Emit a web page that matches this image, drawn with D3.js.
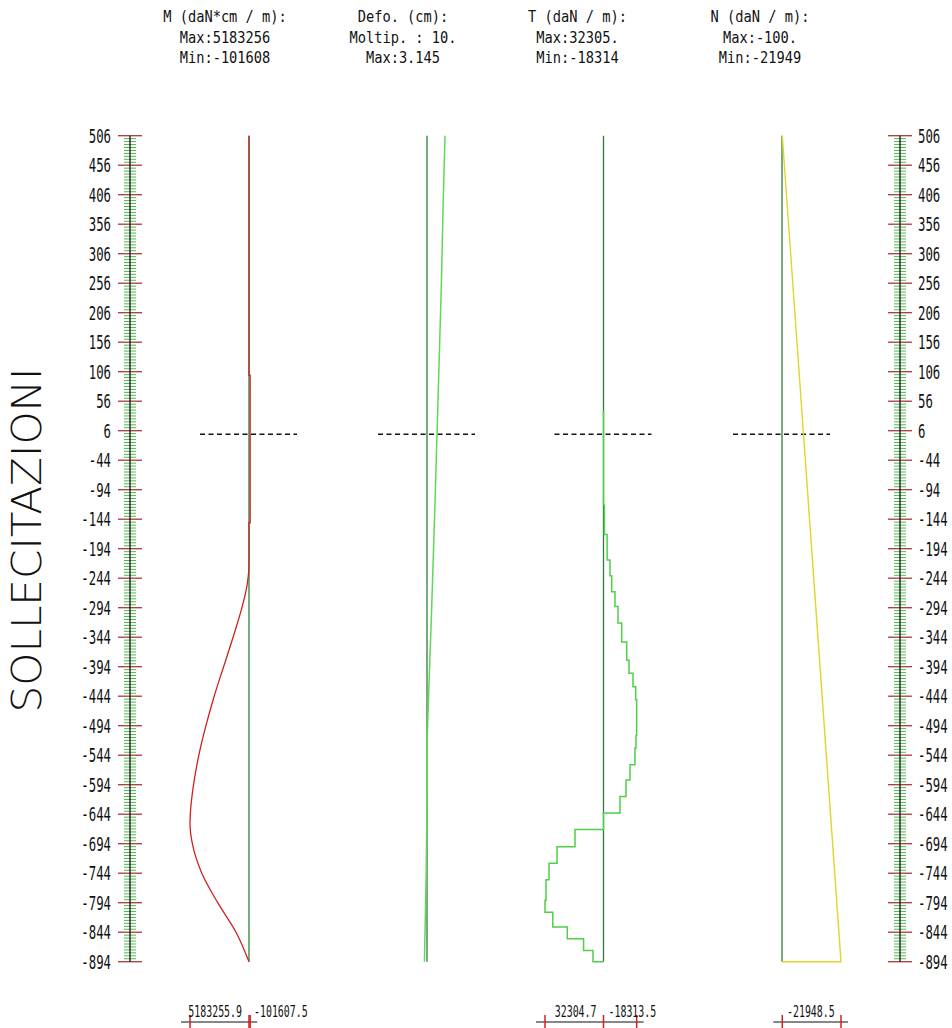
<!DOCTYPE html>
<html lang="it">
<head>
<meta charset="UTF-8" />
<title>Sollecitazioni</title>
<script src="https://cdnjs.cloudflare.com/ajax/libs/d3/7.9.0/d3.min.js"></script>
<style>
  html, body { margin: 0; padding: 0; background: #fff; }
  svg { display: block; }
  text { font-family: "DejaVu Sans Mono", monospace; fill: #111; }
</style>
</head>
<body>
<svg id="chart" width="952" height="1028"></svg>
<script>
/* ---------- data ---------- */
const depthTicks = [506, 456, 406, 356, 306, 256, 206, 156, 106, 56, 6, -44, -94, -144, -194,
  -244, -294, -344, -394, -444, -494, -544, -594, -644, -694, -744, -794, -844, -894];

const headerM = ["M (daN*cm / m):", "Max:5183256", "Min:-101608"];
const headerD = ["Defo. (cm):", "Moltip. : 10.", "Max:3.145"];
const headerT = ["T (daN / m):", "Max:32305.", "Min:-18314"];
const headerN = ["N (daN / m):", "Max:-100.", "Min:-21949"];

const scaleM = { max: 5183255.9, min: -101607.5 };
const scaleT = { max: 32304.7, min: -18313.5 };
const scaleN = { max: -100, min: -21948.5 };
const defoMax = 3.145;

// bending moment
const mDepth = [506, 100, 100, -150, -150, -220, -260, -294, -344, -394, -444, -494, -544,
  -594, -644, -660, -694, -744, -794, -844, -894];
const mVal = [0, 0, -101608, -101608, 0, 0, 207000, 622000, 1399000, 2229000, 3058000,
  3784000, 4406000, 4872000, 5157000, 5183256, 4976000, 4147000, 2747000, 1140000, 0];

// deformation (cm)
const dDepth = [506, 400, 250, 100, -100, -300, -450, -520, -620, -750, -894];
const dVal = [3.145, 2.85, 2.5, 2.05, 1.45, 0.8, 0.25, 0.03, 0.0, -0.15, -0.45];

// shear, step values starting at each depth
const tDepth = [40, -120, -170, -213, -240, -267, -292, -320, -352, -383, -405, -428, -450,
  -510, -532, -560, -586, -614, -642, -670, -699, -727, -755, -790, -810, -835, -855, -875, -894];
const tVal = [0, -500, -2000, -3590, -4530, -6350, -8010, -10050, -12810, -14080, -16290,
  -17780, -18314, -17950, -17400, -14630, -12420, -9110, 0, 15740, 25680, 30100, 31750,
  32305, 28000, 20000, 11000, 5800, 0];

// axial force
const nDepth = [506, -894, -894];
const nVal = [-100, -21949, 0];

/* ---------- layout ---------- */
const svg = d3.select("#chart");
const y = d3.scaleLinear().domain([506, -894]).range([135.7, 961.7]);

const zero = { M: 249, D: 427, T: 603.5, N: 782 };
const xM = d3.scaleLinear().domain([0, scaleM.max]).range([zero.M, 190]);
const xT = d3.scaleLinear().domain([0, scaleT.max]).range([zero.T, 545]);
const xN = d3.scaleLinear().domain([0, scaleN.min]).range([zero.N, 841]);
const xD = d3.scaleLinear().domain([0, defoMax]).range([zero.D, 445]);

// narrow plotter-style text: monospace squeezed horizontally
function label(g, str, x, yy, size, sx, anchor) {
  return g.append("text")
    .attr("transform", `translate(${x},${yy}) scale(${sx},1)`)
    .attr("font-size", size)
    .attr("text-anchor", anchor || "start")
    .text(str);
}

/* ---------- title ---------- */
svg.append("text")
  .attr("transform", "translate(41,540) rotate(-90)")
  .attr("text-anchor", "middle")
  .attr("font-weight", 200)
  .attr("font-size", 40)
  .attr("textLength", 345)
  .attr("lengthAdjust", "spacingAndGlyphs")
  .style("font-family", "DejaVu Sans")
  .text("SOLLECITAZIONI");

/* ---------- headers ---------- */
const headers = [[headerM, zero.M - 24], [headerD, zero.D - 24], [headerT, zero.T - 26], [headerN, zero.N - 22]];
const hg = svg.append("g");
headers.forEach(([lines, cx]) => {
  lines.forEach((s, i) => label(hg, s, cx, 22 + i * 20.5, 16.5, 0.83, "middle"));
});

/* ---------- depth axes ---------- */
function depthAxis(ax, side) {
  const g = svg.append("g");
  const minor = d3.range(506, -895, -5).filter(v => !depthTicks.includes(v));
  g.selectAll("line.minor").data(minor).join("line")
    .attr("x1", ax - 6).attr("x2", ax + 6)
    .attr("y1", d => y(d)).attr("y2", d => y(d))
    .attr("stroke", "#4cb84c").attr("stroke-width", 1);
  g.selectAll("line.major").data(depthTicks).join("line")
    .attr("x1", ax - 12).attr("x2", ax + 12)
    .attr("y1", d => y(d)).attr("y2", d => y(d))
    .attr("stroke", "#a33a3a").attr("stroke-width", 1.3);
  g.append("line")
    .attr("x1", ax).attr("x2", ax).attr("y1", y(506)).attr("y2", y(-894))
    .attr("stroke", "#111").attr("stroke-width", 1.3);
  depthTicks.forEach(v => {
    const s = String(v);
    if (side === "left") label(g, s, 111, y(v) + 7, 19, 0.65, "end");
    else label(g, s, 918, y(v) + 7, 19, 0.65, "start");
  });
}
depthAxis(130, "left");
depthAxis(900, "right");

/* ---------- columns: baselines + ground level ---------- */
const plot = svg.append("g");
Object.values(zero).forEach(x0 => {
  plot.append("line")
    .attr("x1", x0).attr("x2", x0).attr("y1", y(506)).attr("y2", y(-894))
    .attr("stroke", "#2f7d3a").attr("stroke-width", 1.3);
  plot.append("line")
    .attr("x1", x0 - 49).attr("x2", x0 + 48).attr("y1", y(0)).attr("y2", y(0))
    .attr("stroke", "#111").attr("stroke-width", 1.4)
    .attr("stroke-dasharray", "5,3.5");
});

/* ---------- curves ---------- */
const zip = (a, b) => a.map((d, i) => [d, b[i]]);

plot.append("path")
  .datum(zip(mDepth, mVal))
  .attr("fill", "none").attr("stroke", "#cc2222").attr("stroke-width", 1.3)
  .attr("d", d3.line().x(d => xM(d[1])).y(d => y(d[0])).curve(d3.curveMonotoneY));

plot.append("path")
  .datum(zip(dDepth, dVal))
  .attr("fill", "none").attr("stroke", "#5fd85a").attr("stroke-width", 1.5)
  .attr("d", d3.line().x(d => xD(d[1])).y(d => y(d[0])));

plot.append("path")
  .datum(zip(tDepth, tVal))
  .attr("fill", "none").attr("stroke", "#4fcf4a").attr("stroke-width", 1.5)
  .attr("d", d3.line().x(d => xT(d[1])).y(d => y(d[0])).curve(d3.curveStepBefore));

plot.append("path")
  .datum(zip(nDepth, nVal))
  .attr("fill", "none").attr("stroke", "#e2d42a").attr("stroke-width", 1.4)
  .attr("d", d3.line().x(d => xN(d[1])).y(d => y(d[0])));

/* ---------- bottom scale bars ---------- */
const bars = [
  { sc: xM, vals: [scaleM.max, 0, scaleM.min], txt: [scaleM.max.toFixed(1), scaleM.min.toFixed(1)] },
  { sc: xT, vals: [scaleT.max, 0, scaleT.min], txt: [scaleT.max.toFixed(1), scaleT.min.toFixed(1)] },
  { sc: xN, vals: [scaleN.max, scaleN.min], txt: [null, scaleN.min.toFixed(1)] }
];
const bg = svg.append("g");
bars.forEach(b => {
  const xs = b.vals.map(v => b.sc(v));
  const x0 = b.sc(0);
  bg.append("line")
    .attr("x1", d3.min(xs) - 9).attr("x2", d3.max(xs) + 7)
    .attr("y1", 1022).attr("y2", 1022)
    .attr("stroke", "#111").attr("stroke-width", 1.2);
  bg.selectAll(null).data(xs).join("line")
    .attr("x1", d => d).attr("x2", d => d).attr("y1", 1015).attr("y2", 1028)
    .attr("stroke", "#d42020").attr("stroke-width", 1.5);
  if (b.txt[0]) label(bg, b.txt[0], x0 - 7, 1017, 16, 0.62, "end");
  if (b.txt[1]) label(bg, b.txt[1], x0 + 5, 1017, 16, 0.62, "start");
});
</script>
</body>
</html>
